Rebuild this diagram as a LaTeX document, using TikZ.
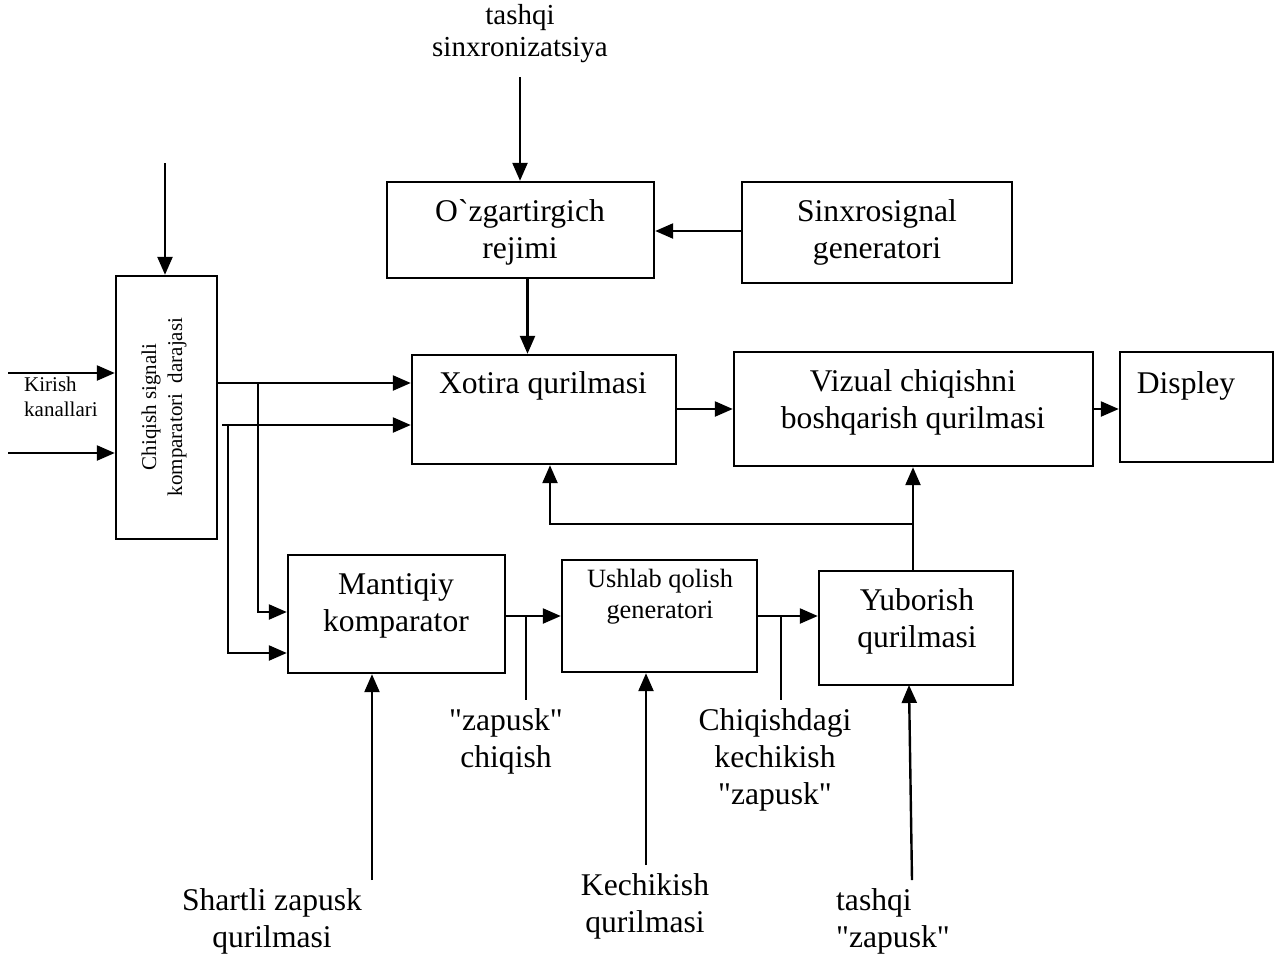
\documentclass[tikz,border=0pt]{standalone}
\usepackage{fontspec}
\setmainfont{Liberation Serif}[Ligatures=TeXOff]
\usetikzlibrary{arrows.meta,fit}
\begin{document}
\begin{tikzpicture}[x=0.5pt,y=-0.5pt,
  line width=1.2pt,
  box/.style={draw, line width=1.2pt, inner sep=0pt},
  arr/.style={-{Triangle[length=9pt,width=7.5pt]}},
  tap/.style={line width=1pt},
  txt/.style={font=\fontsize{15.8}{18.5}\selectfont, align=center, inner sep=0pt},
  mid/.style={font=\fontsize{14.5}{16}\selectfont, align=center, inner sep=0pt},
  sml/.style={font=\fontsize{13.2}{15.5}\selectfont, align=center, inner sep=0pt},
  tiny/.style={font=\fontsize{10.5}{12.5}\selectfont, align=left, inner sep=0pt}]
\useasboundingbox (0,0) rectangle (1286,960);

% blocks
\node[box, fit={(116,276)(217,539)}] (chq) {};
\node[box, fit={(387,182)(654,278)}] (ozg) {};
\node[box, fit={(742,182)(1012,283)}] (snx) {};
\node[box, fit={(412,355)(676,464)}] (xot) {};
\node[box, fit={(734,352)(1093,466)}] (viz) {};
\node[box, fit={(1120,352)(1273,462)}] (dis) {};
\node[box, fit={(288,555)(505,673)}] (man) {};
\node[box, fit={(562,560)(757,672)}] (ush) {};
\node[box, fit={(819,571)(1013,685)}] (yub) {};

% block captions
\node[tiny, font=\fontsize{10.5}{13}\selectfont, align=center, rotate=90] (chqt) at (164,407) {Chiqish signali\\komparatori\ \ darajasi};
\node[txt] (ozgt) at (520,232) {O`zgartirgich\\rejimi};
\node[txt] (snxt) at (877,232) {Sinxrosignal\\generatori};
\node[txt] (xott) at (543,386) {Xotira qurilmasi};
\node[txt] (vizt) at (913,402) {Vizual chiqishni\\boshqarish qurilmasi};
\node[txt] (dist) at (1186,386) {Displey};
\node[txt] (mant) at (396,606) {Mantiqiy\\komparator};
\node[sml] (usht) at (660,597) {Ushlab qolish\\generatori};
\node[txt] (yubt) at (917,621) {Yuborish\\qurilmasi};

% free labels
\node[mid] (tsin) at (520,34) {tashqi\\sinxronizatsiya};
\node[tiny, anchor=west] (kir) at (23,397) {Kirish\\kanallari};
\node[txt] (zch) at (506,741) {"zapusk"\\chiqish};
\node[txt] (chk) at (775,760) {Chiqishdagi\\kechikish\\"zapusk"};
\node[txt] (shz) at (272,921) {Shartli zapusk\\qurilmasi};
\node[txt] (kech) at (645,906) {Kechikish\\qurilmasi};
\node[txt, align=left, anchor=west] (tzap) at (835,921) {tashqi\\"zapusk"};

% free ends of connectors
\coordinate (tsinE) at (520,77);
\coordinate (cin) at (165,163);
\coordinate (k1) at (8,373);
\coordinate (k2) at (8,453);
\coordinate (j1) at (258,383);
\coordinate (j2) at (228,425);
\coordinate (br) at (913,524);
\coordinate (zt) at (526,616);
\coordinate (ct) at (781,616);
\coordinate (shE) at (372,880);
\coordinate (keE) at (646,865);
\coordinate (tzE) at (912,880);
\path (ozg.south) ++(7,0) coordinate (o1);

% connectors
\draw[arr] (tsinE) -- (tsinE |- ozg.north);
\draw[arr] (cin) -- (cin |- chq.north);
\draw[arr] (snx.west |- 0,231) -- (ozg.east |- 0,231);
\draw[arr] (o1) -- (o1 |- xot.north);
\draw[arr] (k1) -- (k1 -| chq.west);
\draw[arr] (k2) -- (k2 -| chq.west);
\draw[arr] (chq.east |- j1) -- (xot.west |- j1);
\draw[arr] (222,425) -- (xot.west |- j2);
\draw[arr] (j1) |- (man.west |- 0,612);
\draw[arr] (j2) |- (man.west |- 0,653);
\draw[arr] (xot.east |- 0,409) -- (viz.west |- 0,409);
\draw[arr] (viz.east |- 0,409) -- (dis.west |- 0,409);
\draw[arr] (yub.north -| br) -- (viz.south -| br);
\draw[arr] (br) -| (xot.south -| 550,0);
\draw[arr] (man.east |- zt) -- (ush.west |- zt);
\draw[tap] (zt) -- (zt |- 0,700);
\draw[arr] (ush.east |- ct) -- (yub.west |- ct);
\draw[tap] (ct) -- (ct |- 0,700);
\draw[arr] (shE) -- (shE |- man.south);
\draw[arr] (keE) -- (keE |- ush.south);
\draw[arr] (tzE) -- (909,685);
\end{tikzpicture}
\end{document}
